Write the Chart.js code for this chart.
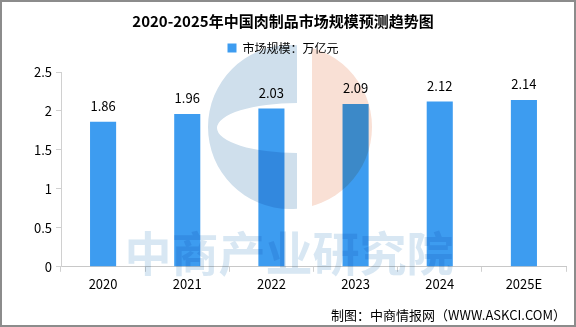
<!DOCTYPE html>
<html>
<head>
<meta charset="utf-8">
<script src="https://cdn.jsdelivr.net/npm/chart.js@4/dist/chart.umd.min.js"></script>
<style>
  html, body { margin: 0; padding: 0; background: #fff; }
  #wrap { width: 576px; height: 327px; position: relative; }
</style>
</head>
<body>
<div id="wrap"><canvas id="graph" width="576" height="327"></canvas></div>
<script>
// data
const years = ['2020', '2021', '2022', '2023', '2024', '2025E'];
const marketSize = [1.86, 1.96, 2.03, 2.09, 2.12, 2.14]; // 万亿元
const yTicks = [0, 0.5, 1, 1.5, 2, 2.5];

const FONT = '"Noto Sans CJK SC", "DejaVu Sans", sans-serif';

// extra room under the legend before the plot starts
const legendGap = {
  id: 'legendGap',
  beforeInit(chart) {
    const fit = chart.legend.fit;
    chart.legend.fit = function () {
      fit.bind(chart.legend)();
      this.height += 8;
    };
  }
};

// faint logo + text in the background, multiplied over the bars
const watermark = {
  id: 'watermark',
  afterDatasetsDraw(chart) {
    const ctx = chart.ctx;
    ctx.save();
    ctx.globalCompositeOperation = 'multiply';
    // left "C" part of the logo
    ctx.beginPath();
    ctx.rect(180, 40, 117, 180);
    ctx.clip();
    ctx.beginPath();
    ctx.arc(290, 127, 82, 0, Math.PI * 2);
    ctx.ellipse(297, 128, 80, 25, 0, 0, Math.PI * 2, true);
    ctx.fillStyle = '#cfdfec';
    ctx.fill('evenodd');
    ctx.restore();

    ctx.save();
    ctx.globalCompositeOperation = 'multiply';
    // right part of the logo
    ctx.beginPath();
    ctx.rect(312, 40, 80, 180);
    ctx.clip();
    ctx.beginPath();
    ctx.arc(290, 127, 82, 0, Math.PI * 2);
    ctx.fillStyle = '#f9e0d5';
    ctx.fill();
    ctx.restore();

    ctx.save();
    ctx.globalCompositeOperation = 'multiply';
    ctx.font = 'bold 47px ' + FONT;
    ctx.fillStyle = '#d8e7f3';
    ctx.textAlign = 'center';
    ctx.textBaseline = 'middle';
    ctx.fillText('中商产业研究院', 289, 253);
    ctx.restore();
  }
};

// value labels above each bar, plus the outer frame
const valueLabels = {
  id: 'valueLabels',
  afterDatasetsDraw(chart) {
    const ctx = chart.ctx;
    const meta = chart.getDatasetMeta(0);
    ctx.save();
    ctx.font = '13px ' + FONT;
    ctx.fillStyle = '#000';
    ctx.textAlign = 'center';
    ctx.textBaseline = 'middle';
    meta.data.forEach((bar, i) => {
      ctx.fillText(marketSize[i].toFixed(2), bar.x, bar.y - 16);
    });
    ctx.restore();
  },
  afterDraw(chart) {
    const ctx = chart.ctx;
    ctx.save();
    ctx.strokeStyle = '#8c8c8c';
    ctx.lineWidth = 2;
    ctx.strokeRect(1, 1, chart.width - 2, chart.height - 2);
    ctx.restore();
  }
};

const chart = new Chart('graph', {
  type: 'bar',
  data: {
    labels: years,
    datasets: [{
      label: '市场规模：万亿元',
      data: marketSize,
      backgroundColor: '#3d9cf0',
      barPercentage: 0.31,
      categoryPercentage: 1
    }]
  },
  options: {
    responsive: false,
    animation: false,
    layout: { padding: { left: 0, right: 10, top: 0, bottom: 4 } },
    plugins: {
      title: {
        display: true,
        text: '2020-2025年中国肉制品市场规模预测趋势图',
        color: '#000',
        font: { family: FONT, size: 15, weight: 'bold' },
        padding: { top: 12, bottom: 7 }
      },
      legend: {
        display: true,
        labels: {
          color: '#000',
          font: { family: FONT, size: 12 },
          boxWidth: 9,
          boxHeight: 9,
          padding: 5
        }
      },
      subtitle: {
        display: true,
        position: 'bottom',
        align: 'end',
        text: '制图：中商情报网（WWW.ASKCI.COM）',
        color: '#000',
        font: { family: FONT, size: 13 },
        padding: { top: 12, bottom: 0 }
      },
      tooltip: { enabled: false }
    },
    scales: {
      x: {
        grid: { drawOnChartArea: false, drawTicks: true, tickLength: 5, color: '#d0d0d0' },
        border: { color: '#c8c8c8' },
        ticks: { color: '#000', font: { family: FONT, size: 13 }, padding: 4 }
      },
      y: {
        min: 0,
        max: 2.5,
        afterBuildTicks(axis) {
          axis.ticks = yTicks.map(v => ({ value: v }));
        },
        afterFit(axis) {
          axis.width = 61;
        },
        grid: { drawOnChartArea: false, drawTicks: true, tickLength: 5, color: '#d0d0d0' },
        border: { color: '#d0d0d0' },
        ticks: {
          color: '#000',
          font: { family: FONT, size: 13 },
          padding: 4,
          callback: v => v
        }
      }
    }
  },
  plugins: [legendGap, watermark, valueLabels]
});
</script>
</body>
</html>
